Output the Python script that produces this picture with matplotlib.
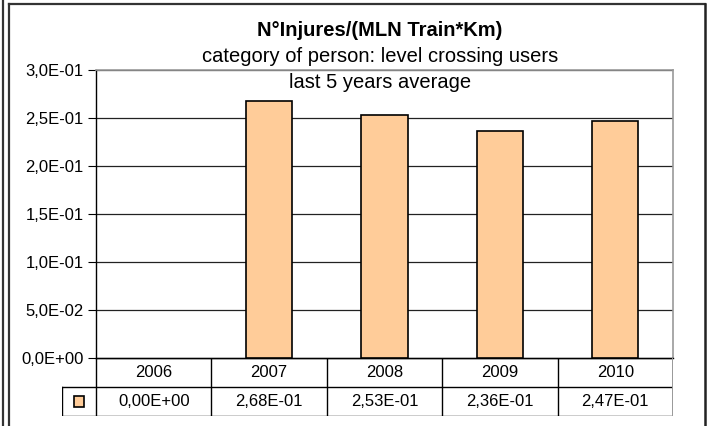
import matplotlib
matplotlib.use("Agg")
import matplotlib.pyplot as plt
from matplotlib.patches import Rectangle
from matplotlib.lines import Line2D

plt.rcParams["font.family"] = ["Liberation Sans", "DejaVu Sans"]

years = ["2006", "2007", "2008", "2009", "2010"]
values = [0.0, 0.268, 0.253, 0.236, 0.247]
value_labels = ["0,00E+00", "2,68E-01", "2,53E-01", "2,36E-01", "2,47E-01"]
yticks = [0.0, 0.05, 0.10, 0.15, 0.20, 0.25, 0.30]
ytick_labels = ["0,0E+00", "5,0E-02", "1,0E-01", "1,5E-01", "2,0E-01", "2,5E-01", "3,0E-01"]

W, H = 710, 426
fig = plt.figure(figsize=(W / 100, H / 100), dpi=100)
bar_color = "#FFCC99"

# plot area in pixels
PL, PT, PR, PB = 96, 70, 673, 358
col_w = (PR - PL) / len(years)


def px(x0, y0, x1, y1):
    # pixel box -> figure fraction rect
    return [x0 / W, 1 - y1 / H, (x1 - x0) / W, (y1 - y0) / H]


# outer chart frames
fig.add_artist(Line2D([2.5 / W, 2.5 / W], [0, 1], color="#333333", lw=1.6))
fig.add_artist(Line2D([8.5 / W, 8.5 / W], [0, 1 - 4 / H], color="#333333", lw=1.6))
fig.add_artist(Line2D([8.5 / W, 705 / W], [1 - 4 / H, 1 - 4 / H], color="#333333", lw=1.6))
fig.add_artist(Line2D([705 / W, 705 / W], [0, 1 - 4 / H], color="#222222", lw=1.8))

# main plot
ax = fig.add_axes(px(PL, PT, PR, PB))
x = list(range(len(years)))
bars = ax.bar(x, values, width=0.4, color=bar_color, edgecolor="black", linewidth=1.2, zorder=3)
for b, v in zip(bars, values):
    if v == 0:
        b.set_linewidth(0)
ax.set_xlim(-0.5, len(years) - 0.5)
ax.set_ylim(0, 0.3)
ax.set_yticks(yticks)
ax.set_yticklabels(ytick_labels, fontsize=12)
ax.set_xticks([])
ax.yaxis.grid(True, color="#222222", linewidth=0.9)
ax.set_axisbelow(True)
ax.tick_params(axis="y", direction="out", length=6, width=0.8, pad=3)
for side in ["top", "right"]:
    ax.spines[side].set_color("#999999")
    ax.spines[side].set_linewidth(1.2)
for side in ["left", "bottom"]:
    ax.spines[side].set_color("black")
    ax.spines[side].set_linewidth(1.0)

# titles
cx = 380 / W
fig.text(cx, 1 - 30 / H, "N°Injures/(MLN Train*Km)", ha="center", va="center",
         fontsize=14.5, fontweight="bold")
fig.text(cx, 1 - 57 / H, "category of person: level crossing users", ha="center",
         va="center", fontsize=14.5)
fig.text(cx, 1 - 82 / H, "last 5 years average", ha="center", va="center", fontsize=14.5)

# data table
KL, RM, TB = 62, 387, 416
key_w = (PL - KL) / col_w
tab = fig.add_axes(px(KL, PB, PR, TB))
top = (TB - PB) / (TB - RM)
tab.set_xlim(-0.5 - key_w, len(years) - 0.5)
tab.set_ylim(0, top)
tab.axis("off")
lc = "black"
xr = len(years) - 0.5
tab.plot([-0.5, xr], [top, top], color=lc, lw=1.0)
tab.plot([-0.5 - key_w, xr], [1, 1], color=lc, lw=1.0)
tab.plot([-0.5 - key_w, xr], [0, 0], color=lc, lw=1.0)
tab.plot([-0.5, -0.5], [0, top], color=lc, lw=1.0)
tab.plot([-0.5 - key_w, -0.5 - key_w], [0, 1], color=lc, lw=1.0)
for i in range(1, len(years)):
    tab.plot([i - 0.5, i - 0.5], [0, top], color=lc, lw=1.0)
tab.plot([xr, xr], [0, top], color="#999999", lw=1.4)
for i, (yr, vl) in enumerate(zip(years, value_labels)):
    tab.text(i, (1 + top) / 2, yr, ha="center", va="center", fontsize=12)
    tab.text(i, 0.5, vl, ha="center", va="center", fontsize=12)
bw = 10 / col_w
tab.add_patch(Rectangle((-0.5 - key_w / 2 - bw / 2, 0.3), bw, 0.4,
                        facecolor=bar_color, edgecolor="black", lw=1.2, clip_on=False))

fig.savefig("out.png", dpi=100)
